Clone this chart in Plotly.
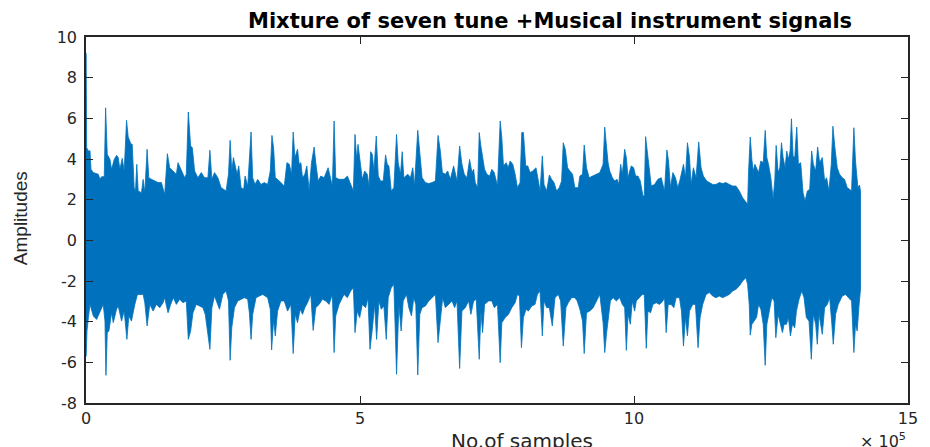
import plotly.graph_objects as go

# Envelope of the mixture signal (x in thousands of samples)
upper_x = [0, 0.3, 1.2, 4.3, 7.3, 9.1, 13.4, 22.4, 25.5, 28.5, 33.3, 35.8, 38.8, 43.7, 46.7, 51.5, 55.8, 58.8, 61.8, 66.1,
           69.7, 74.0, 77.0, 81.8, 84.3, 87.9, 90.3, 92.7, 95.2, 101.2, 104.3, 107.3, 111.5, 114.6, 119.4, 125.5, 131.5, 137.6, 143.6, 148.5,
           152.7, 158.8, 164.9, 167.9, 174.0, 180.0, 183.0, 186.7, 190.9, 194.0, 198.2, 204.2, 210.3, 216.4, 222.4, 226.1, 229.7,
           234.5, 240.6, 246.6, 255.7, 260.0, 263.0, 266.0, 269.0, 272.1, 275.7, 278.7, 283.0, 287.8, 290.3, 295.1, 301.2, 304.2, 308.4,
           313.3, 319.3, 325.4, 331.5, 336.3, 339.3, 342.4, 345.4, 349.6, 355.7, 361.8, 366.6, 370.9, 375.1, 378.1, 381.2, 386.0, 389.0,
           392.1, 395.1, 399.3, 403.0, 407.2, 411.5, 416.3, 419.3, 423.6, 428.4, 434.5, 441.8, 446.6, 449.6, 452.7, 455.7, 461.8,
           470.9, 477.0, 483.0, 487.9, 490.9, 493.9, 496.4, 500.0, 504.2, 508.5, 513.3, 516.4, 519.4, 522.4, 525.4, 529.7, 533.3, 537.6,
           542.4, 546.7, 549.7, 552.7, 557.0, 561.8, 566.7, 569.7, 573.9, 577.0, 580.0, 587.3, 592.1, 596.3, 599.4, 605.4, 609.1, 613.3,
           619.4, 625.4, 631.5, 637.6, 642.4, 646.6, 650.3, 655.7, 660.0, 664.8, 670.9, 677.0, 681.8, 686.0, 690.3, 695.1, 700.0, 704.2,
           707.3, 710.3, 714.6, 717.6, 720.6, 723.7, 727.3, 731.5, 736.4, 740.6, 744.9, 750.9, 755.8, 758.8, 761.8, 766.7, 770.3, 774.0,
           778.8, 783.1, 787.3, 792.1, 795.2, 798.2, 802.4, 806.1, 810.3, 815.2, 821.2, 825.5, 828.5, 832.7, 835.8, 840.6, 845.5, 849.7,
           854.0, 858.8, 863.6, 867.9, 870.9, 874.6, 878.8, 883.0, 887.9, 892.1, 898.2, 901.2, 906.1, 909.1, 913.3, 918.2, 925.5, 931.5,
           937.6,
           943.6, 946.6, 949.7, 952.7, 955.7, 960.6, 964.8, 969.1, 972.1, 975.7, 978.7, 983.0, 986.0, 989.1, 992.1, 995.1, 999.4, 1003.0,
           1007.2, 1011.5, 1016.3, 1018.7, 1021.2, 1024.2, 1027.2, 1031.5, 1037.5, 1043.6, 1049.7, 1055.7, 1060.0, 1063.0, 1066.6, 1070.9,
           1075.7, 1080.0, 1084.2, 1090.3, 1093.9, 1097.5, 1101.2, 1104.2, 1108.4, 1113.3, 1118.1, 1122.4, 1126.6, 1132.7, 1137.5, 1143.6,
           1149.6, 1155.7, 1161.8, 1167.8, 1173.9,
           1180.0, 1186.1, 1192.1, 1198.2, 1204.2, 1207.3, 1209.1, 1212.1, 1215.1, 1217.6, 1220.6, 1223.6, 1227.3, 1231.5, 1235.8, 1239.4,
           1242.4, 1245.4, 1249.7, 1253.9, 1257.0, 1259.4, 1263.0, 1266.1, 1269.1, 1272.1, 1275.7, 1278.8, 1281.8, 1284.8, 1287.3, 1290.3,
           1293.3, 1297.0, 1300.0, 1304.2, 1308.5, 1312.1, 1316.4, 1320.6, 1324.2, 1327.3, 1331.5, 1335.1, 1338.8, 1343.6, 1347.9, 1351.5,
           1355.7, 1360.0, 1363.0, 1366.6, 1370.9, 1375.1, 1380.0, 1384.2, 1389.1, 1393.3, 1397.0, 1401.2, 1404.2, 1408.5, 1411.5, 1413.3]
upper_y = [9.2, 9.2, 4.56, 4.39, 4.4, 3.49, 3.33, 3.25, 3.0, 3.13, 3.13, 6.52, 4.23, 3.98, 3.49, 3.98, 4.18, 4.07, 3.49, 4.03,
           3.41, 5.9, 5.08, 4.75, 4.72, 2.59, 2.43, 3.74, 2.43, 2.34, 3.0, 2.34, 4.48, 3.08, 3.0, 2.92, 2.84, 2.84, 2.26, 4.26,
           3.57, 3.41, 3.25, 3.82, 3.41, 3.08, 3.25, 6.31, 4.64, 4.56, 3.41, 3.08, 3.33, 3.08, 3.08, 4.43, 3.0,
           3.33, 3.08, 2.59, 2.43, 3.25, 4.92, 3.41, 4.07, 3.74, 3.25, 3.66, 2.59, 2.51, 3.16, 2.67, 5.33, 3.08, 2.75,
           3.0, 2.75, 2.84, 2.75, 3.41, 5.16, 4.52, 3.08, 3.0, 2.84, 2.67, 3.82, 3.74, 3.25, 5.33, 4.07, 4.48, 3.74,
           3.82, 3.08, 3.25, 3.66, 2.43, 3.82, 4.59, 3.82, 2.92, 3.16, 3.08, 3.57, 3.08, 2.67, 5.87, 3.08, 3.0,
           3.0, 3.16, 2.75, 2.43, 5.21, 3.98, 4.72, 3.98, 3.0, 3.41, 3.25, 2.67, 4.36, 4.23, 3.41, 5.13, 3.16, 2.92,
           2.92, 4.2, 3.74, 3.66, 2.43, 2.59, 5.21, 3.82, 3.25, 4.36, 3.08, 3.25, 3.08, 3.57, 2.67, 5.41, 4.31, 3.08,
           2.84, 2.79, 2.84, 2.92, 5.16, 4.39, 3.33, 3.25, 3.41, 3.0, 3.66, 2.92, 4.64, 3.74, 3.25, 3.08, 3.98, 3.33,
           3.49, 2.84, 2.59, 5.3, 4.64, 3.98, 3.49, 3.25, 3.16, 3.49, 3.33, 2.67, 5.87, 5.05, 3.66, 3.82, 3.57, 3.9,
           3.74, 3.25, 2.59, 2.84, 5.3, 5.3, 3.66, 3.66, 3.33, 3.41, 3.57, 2.92, 2.43, 4.15, 2.75, 2.43, 3.21, 3.0,
           2.84, 2.43, 2.59, 2.92, 4.8, 4.48, 3.57, 3.41, 3.25, 2.59, 2.59, 3.16, 3.25, 4.69, 3.57, 3.08, 3.16, 3.25,
           3.33,
           3.74, 5.57, 4.64, 3.82, 3.41, 3.08, 2.92, 3.0, 2.75, 3.74, 3.25, 4.48, 4.07, 3.08, 3.41, 3.66, 3.57, 3.16,
           3.16, 2.92, 2.18, 2.18, 5.1, 4.39, 3.57, 2.67, 2.75, 3.0, 3.08, 2.43, 4.44, 3.9, 2.59, 3.33,
           3.08, 2.59, 3.0, 3.74, 3.08, 4.8, 4.11, 2.75, 3.57, 3.08, 4.84, 3.57, 3.16, 2.92, 2.84, 2.75,
           2.75, 2.84, 2.79, 2.84, 2.75,
           2.67, 2.67, 2.43, 2.1, 1.85, 1.77, 3.41, 5.08, 3.98, 3.41, 3.74, 3.57, 3.33, 3.9, 3.82, 5.41,
           4.07, 3.74, 3.08, 2.02, 3.0, 4.67, 3.33, 3.57, 4.8, 4.07, 3.57, 4.39, 3.98, 4.39, 5.98, 4.15,
           4.07, 5.57, 3.74, 3.82, 2.34, 1.93, 2.43, 2.51, 4.39, 3.74, 3.41, 4.59, 3.82, 4.07, 2.92, 3.08,
           2.43, 3.74, 5.61, 4.56, 3.57, 3.25, 3.08, 3.0, 2.59, 2.51, 2.43, 5.54, 3.9, 2.59, 2.72, 2.43]

lower_x = [0, 0.3, 1.8, 4.3, 7.3, 13.4, 19.4, 25.5, 31.5, 34.6, 36.4, 38.8, 41.8, 46.7, 49.7, 55.8, 58.8, 64.9, 69.7, 74.6,
           78.2, 83.0, 89.1, 93.9, 104.3, 107.3, 111.5, 116.4, 122.4, 128.5, 134.6, 140.6, 143.6, 149.7, 154.5, 159.4, 164.9, 170.9, 177.0, 183.0,
           186.7, 190.9, 195.2, 201.2, 207.3, 213.3, 217.6, 226.1, 229.7,
           234.5, 239.3, 243.6, 249.7, 255.7, 260.0, 263.0, 266.0, 270.9, 276.9, 283.0, 289.0, 295.1, 298.1, 301.2, 304.2, 310.3, 316.3,
           322.4, 331.5, 336.3, 338.7, 342.4, 345.4, 349.6, 355.7, 361.8, 367.8, 373.9, 378.1, 381.8, 386.0, 390.8, 395.1, 399.3, 404.2,
           410.2, 414.5, 419.3, 425.4, 431.5, 437.5, 443.6, 449.6, 452.7, 455.7, 461.8, 467.8,
           470.9, 477.0, 483.0, 487.9, 490.9, 495.1, 499.4, 504.2, 510.3, 514.5, 518.2, 522.4, 526.7, 530.3, 534.5, 538.8, 543.6, 547.9,
           551.5, 557.0, 561.8, 566.7, 570.9, 575.1, 578.8, 584.8, 589.1, 593.9, 598.2, 601.8, 605.4, 609.1, 613.3, 619.4, 625.4, 631.5,
           637.6, 642.4, 646.6, 650.9, 655.7, 661.8, 667.9, 672.7, 677.0, 681.8, 686.0, 692.1, 698.2, 702.4,
           707.3, 712.1, 714.6, 717.6, 720.6, 723.7, 727.3, 734.6, 740.6, 744.9, 750.9, 755.8, 758.8, 764.9, 771.0, 777.0, 783.1, 787.3,
           790.9, 794.6, 798.2, 803.0, 807.3, 813.4, 819.4, 823.7, 828.5, 832.7, 835.8, 840.6, 845.5, 850.9, 855.8, 861.8, 866.1, 870.9,
           875.8, 880.0, 886.1, 892.1, 896.4, 901.2, 906.1, 909.1, 913.3, 919.4, 925.5, 931.5, 937.6,
           943.6, 946.6, 949.7, 952.7, 956.9, 961.8, 967.8, 973.9, 978.7, 983.0, 986.0, 989.1, 993.3, 996.9, 1001.2, 1004.2, 1009.1, 1015.1,
           1018.7, 1022.4, 1025.4, 1030.3, 1034.5, 1040.6, 1046.6, 1052.7, 1055.7, 1058.7, 1062.4, 1067.8, 1072.7, 1076.9, 1083.0, 1086.6,
           1090.3, 1093.9, 1097.5, 1101.2, 1107.2, 1112.1, 1116.9, 1120.6, 1125.4, 1131.5, 1137.5, 1143.6, 1149.6, 1155.7, 1161.8, 1167.8,
           1173.9,
           1180.0, 1186.1, 1192.1, 1198.2, 1204.2, 1207.3, 1210.3, 1212.1, 1215.1, 1219.4, 1223.6, 1227.3, 1231.5, 1235.8, 1239.4, 1242.4,
           1246.7, 1251.5, 1255.7, 1258.8, 1263.0, 1266.7, 1270.9, 1273.9, 1278.2, 1281.8, 1285.4, 1289.1, 1293.3, 1296.4, 1301.2, 1306.1,
           1310.3, 1314.5, 1319.4, 1323.6, 1327.3, 1331.5, 1334.5, 1337.6, 1341.2, 1343.6, 1347.9, 1352.7, 1357.0, 1360.6, 1363.6, 1367.9,
           1372.7, 1380.0, 1386.0, 1392.1, 1397.0, 1401.2, 1404.2, 1407.3, 1410.3, 1413.3]
lower_y = [-5.7, -5.7, -4.46, -3.8, -3.15, -3.72, -3.89, -3.48, -3.15, -3.97, -6.64, -4.54, -4.46, -3.56, -4.05, -3.39, -3.23, -3.97, -3.48, -4.87,
           -3.72, -3.97, -3.15, -2.66, -2.66, -3.07, -4.21, -3.15, -3.48, -3.15, -3.31, -3.07, -2.82, -3.56, -3.15, -2.82, -3.15, -2.9, -3.07, -2.98,
           -4.87, -4.46, -3.56, -3.15, -3.23, -3.31, -3.64, -5.36, -3.31,
           -2.74, -3.07, -3.39, -2.66, -2.49, -2.98, -5.9, -4.3, -3.31, -2.98, -2.9, -2.82, -2.9, -3.56, -4.87, -3.64, -2.82, -2.74,
           -2.66, -2.82, -3.39, -5.39, -3.89, -4.7, -3.48, -2.98, -2.98, -3.48, -3.15, -5.57, -3.64, -4.05, -3.39, -3.64, -3.31, -3.07,
           -2.66, -4.43, -3.31, -3.15, -2.9, -2.98, -3.15, -2.66, -5.52, -3.72, -3.15, -2.82,
           -2.66, -2.82, -2.49, -2.33, -4.54, -3.48, -3.8, -3.15, -3.31, -2.82, -5.36, -4.38, -3.15, -4.87, -2.98, -3.39, -3.23, -4.87,
           -2.82, -2.33, -2.16, -6.59, -3.15, -4.46, -2.98, -2.66, -3.31, -3.72, -2.82, -3.15, -6.62, -3.64, -3.31, -3.23, -2.98, -2.82,
           -2.66, -5.03, -4.13, -2.82, -3.31, -3.15, -2.98, -3.31, -2.98, -6.3, -3.48, -3.31, -2.98, -3.64,
           -2.98, -2.9, -3.97, -5.85, -3.48, -4.54, -3.15, -2.98, -2.98, -3.31, -3.15, -6.02, -4.05, -3.8, -3.64, -3.31, -3.07, -2.66,
           -2.74, -5.28, -3.8, -3.39, -3.48, -3.23, -3.15, -2.66, -2.49, -4.7, -2.98, -3.31, -3.31, -4.21, -2.82, -2.66, -2.98, -5.2,
           -3.31, -3.07, -2.82, -2.82, -2.98, -3.39, -3.97, -5.57, -3.56, -3.48, -3.31, -2.98, -2.66,
           -4.05, -5.52, -4.62, -3.8, -2.98, -2.82, -2.98, -2.82, -3.15, -3.31, -5.41, -3.64, -4.13, -2.98, -3.48, -2.98, -2.82, -2.66,
           -2.66, -5.31, -3.48, -3.56, -3.15, -3.07, -3.15, -2.98, -2.82, -4.54, -3.15, -3.15, -3.31, -2.82, -2.82, -3.48,
           -5.2, -3.8, -4.7, -3.48, -3.15, -3.15, -5.28, -3.8, -3.15, -2.66, -2.57, -2.74, -2.82, -2.74, -2.82, -2.74,
           -2.66,
           -2.49, -2.41, -2.25, -2.0, -1.84, -2.16, -3.15, -4.66, -4.13, -3.97, -3.8, -3.15, -3.39, -4.13, -6.15, -4.13,
           -3.48, -2.82, -2.98, -4.79, -3.64, -3.97, -4.54, -4.13, -4.13, -3.8, -4.7, -4.13, -4.3, -3.48, -2.9, -2.49,
           -2.82, -3.8, -3.97, -5.85, -3.64, -4.13, -5.11, -3.64, -4.13, -4.62, -3.31, -3.15, -2.82, -3.97, -5.11, -3.64,
           -3.15, -2.74, -2.66, -2.82, -2.98, -5.52, -4.13, -4.46, -3.31, -2.41]

x_tick_vals = [0, 500000, 1000000, 1500000]
x_tick_text = ["0", "5", "10", "15"]
y_tick_vals = [-8, -6, -4, -2, 0, 2, 4, 6, 8, 10]
y_tick_text = ["-8", "-6", "-4", "-2", "0", "2", "4", "6", "8", "10"]

title_text = "Mixture of seven tune +Musical instrument signals"
x_title = "No.of samples"
y_title = "Amplitudes"

blue = "#0072BD"
axis_col = "#262626"

poly_x = [v * 1000 for v in upper_x] + [v * 1000 for v in lower_x[::-1]]
poly_y = upper_y + lower_y[::-1]

fig = go.Figure()
fig.add_trace(go.Scatter(x=poly_x, y=poly_y, mode="lines", fill="toself",
                         fillcolor=blue, line=dict(color=blue, width=0.8),
                         hoverinfo="skip", showlegend=False))

axis_common = dict(showline=True, linecolor=axis_col, linewidth=1.5, mirror="ticks",
                   ticks="inside", ticklen=7, tickwidth=1.2, tickcolor=axis_col,
                   showgrid=False, zeroline=False,
                   tickfont=dict(family="DejaVu Sans", size=16, color=axis_col))

fig.update_xaxes(range=[0, 1500000], tickvals=x_tick_vals, ticktext=x_tick_text, **axis_common)
fig.update_yaxes(range=[-8, 10], tickvals=y_tick_vals, ticktext=y_tick_text,
                 ticklabelstandoff=4, **axis_common)

# page body adds an 8px offset, so the figure is 8px smaller and margins compensate
fig.update_layout(
    width=922, height=439,
    margin=dict(l=78, r=19, t=29, b=44),
    plot_bgcolor="white", paper_bgcolor="white",
    annotations=[
        dict(text="<b>" + title_text + "</b>", xref="paper", yref="paper", x=0.565, y=1.0,
             yshift=2, xanchor="center", yanchor="bottom", showarrow=False,
             font=dict(family="DejaVu Sans", size=21, color="black")),
        dict(text=y_title, xref="paper", yref="paper", x=0, xshift=-66, y=0.505, textangle=-90,
             xanchor="center", yanchor="middle", showarrow=False,
             font=dict(family="Liberation Sans", size=19, color=axis_col)),
        dict(text=x_title, xref="paper", yref="paper", x=0.53, y=0, yshift=-24,
             xanchor="center", yanchor="top", showarrow=False,
             font=dict(family="DejaVu Sans", size=20, color=axis_col)),
        dict(text="× 10<sup>5</sup>", xref="paper", yref="paper", x=1.0, y=0, yshift=-25,
             xanchor="right", yanchor="top", showarrow=False,
             font=dict(family="DejaVu Sans", size=16, color=axis_col)),
    ],
)

fig.write_html("out.html")
